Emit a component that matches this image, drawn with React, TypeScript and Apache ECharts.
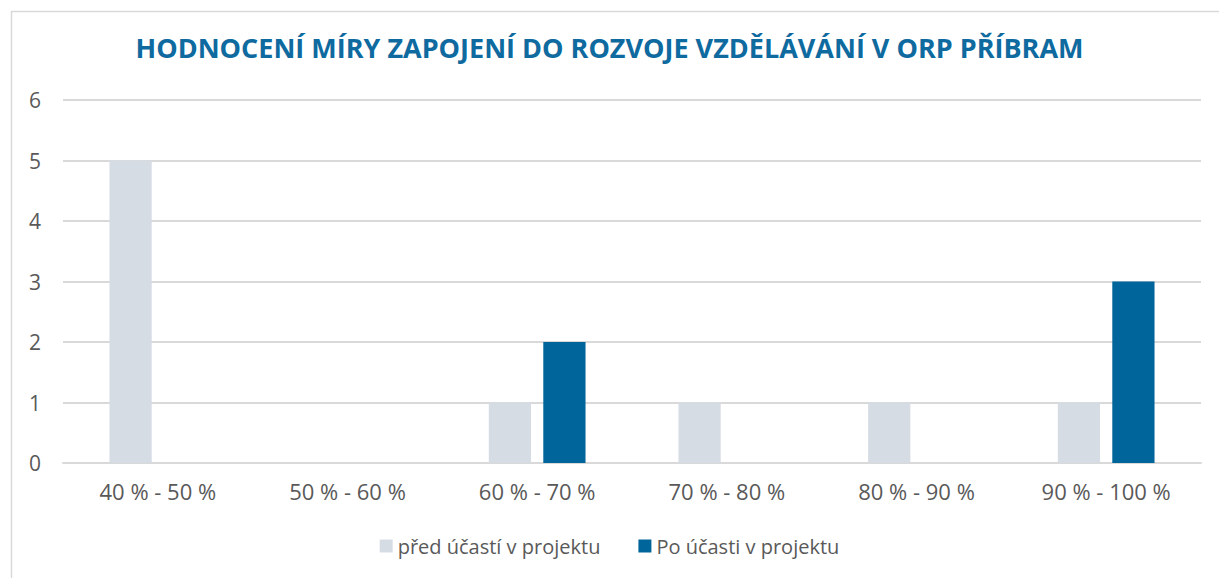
import React, { useEffect, useRef } from "react";
import * as echarts from "echarts";

const categories = ["40 % - 50 %", "50 % - 60 %", "60 % - 70 %", "70 % - 80 %", "80 % - 90 %", "90 % - 100 %"];
const beforeValues = [5, 0, 1, 1, 1, 1];
const afterValues = [0, 0, 2, 0, 0, 3];
const seriesNames = ["před účastí v projektu", "Po účasti v projektu"];
const titleText = "HODNOCENÍ MÍRY ZAPOJENÍ DO ROZVOJE VZDĚLÁVÁNÍ V ORP PŘÍBRAM";

export default function App() {
  const ref = useRef<HTMLDivElement>(null);
  useEffect(() => {
    if (!ref.current) return;
    const chart = echarts.init(ref.current, null, { renderer: "svg" });
    const font = "'Open Sans', sans-serif";
    chart.setOption({
      animation: false,
      backgroundColor: "#ffffff",
      graphic: [
        {
          type: "rect",
          shape: { x: 11.5, y: 11.5, width: 1300, height: 700 },
          style: { fill: "none", stroke: "#d9d9d9", lineWidth: 1.5 },
          silent: true,
        },
      ],
      title: {
        text: titleText,
        left: "center",
        top: 29,
        textStyle: { color: "#0e6a9f", fontSize: 27, fontWeight: "bold", fontFamily: font },
      },
      legend: {
        bottom: 17,
        left: "center",
        itemWidth: 13,
        itemHeight: 13,
        itemGap: 38,
        icon: "rect",
        textStyle: { color: "#595959", fontSize: 20, fontFamily: font },
        data: seriesNames,
      },
      grid: { left: 63, right: 18, top: 100, bottom: 115 },
      xAxis: {
        type: "category",
        data: categories,
        axisLine: { lineStyle: { color: "#d9d9d9", width: 2 } },
        axisTick: { show: false },
        axisLabel: { color: "#595959", fontSize: 22, margin: 17, fontFamily: font },
      },
      yAxis: {
        type: "value",
        min: 0,
        max: 6,
        interval: 1,
        axisLine: { show: false },
        axisTick: { show: false },
        splitLine: { lineStyle: { color: "#d9d9d9", width: 2 } },
        axisLabel: { color: "#595959", fontSize: 21, margin: 22, fontFamily: font },
      },
      series: [
        {
          name: seriesNames[0],
          type: "bar",
          data: beforeValues,
          itemStyle: { color: "#d6dce4" },
          barGap: "29%",
          barCategoryGap: "49%",
        },
        {
          name: seriesNames[1],
          type: "bar",
          data: afterValues,
          itemStyle: { color: "#00659a" },
          barGap: "29%",
          barCategoryGap: "49%",
        },
      ],
    });
    return () => chart.dispose();
  }, []);
  return <div ref={ref} style={{ position: "fixed", left: 0, top: 0, width: 1219, height: 578 }} />;
}
